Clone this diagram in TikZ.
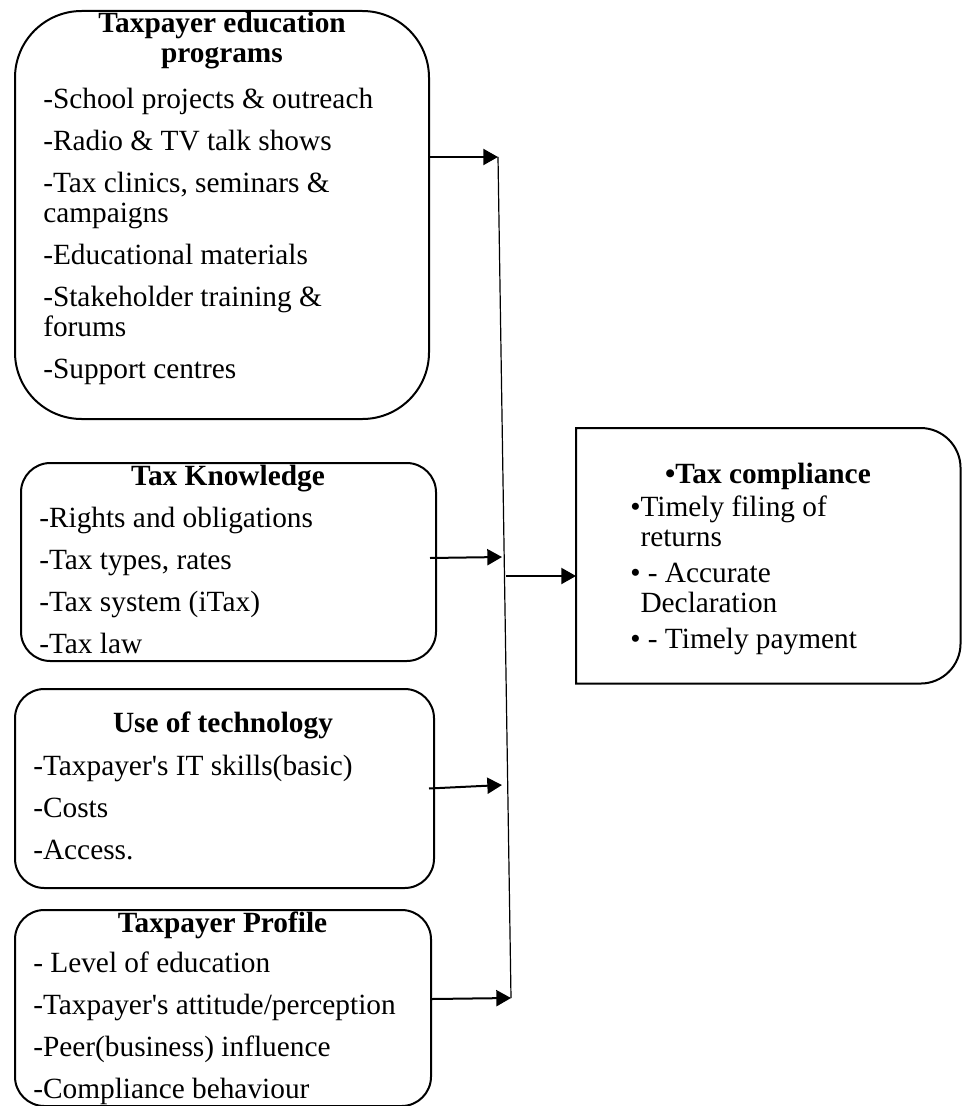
\documentclass[tikz,border=0pt]{standalone}
\usepackage{fontspec}
\setmainfont{Liberation Serif}
\usetikzlibrary{arrows.meta,positioning,calc}

\tikzset{
    box/.style={draw, line width=1.5pt, inner sep=0pt, anchor=north west},
    head/.style={font=\fontsize{22}{22.5}\selectfont\bfseries, align=center, anchor=base, inner sep=0pt},
    items/.style={font=\fontsize{22}{22.5}\selectfont, align=left, anchor=base west, inner sep=0pt},
    link/.style={-{Triangle[length=11pt,width=12pt]}, line width=1.5pt},
    spine/.style={line width=0.9pt}
}

\begin{document}
\begin{tikzpicture}[x=0.75pt, y=-0.75pt]

\useasboundingbox (0,0) rectangle (962,1106);

% input boxes (text nodes sit on the baseline of their last line)
\node[box, rounded corners=50pt, minimum width=310.5pt, minimum height=306pt] (edu) at (14,10) {};
\node[head] (eduhead) at (222,63) {Taxpayer education\\programs};
\node[items] (eduitems) at (43,378)
    {-School projects \& outreach\\[9pt]
     -Radio \& TV talk shows\\[9pt]
     -Tax clinics, seminars \&\\campaigns\\[9pt]
     -Educational materials\\[9pt]
     -Stakeholder training \&\\forums\\[9pt]
     -Support centres};

\node[box, rounded corners=22pt, minimum width=311.25pt, minimum height=148.5pt] (know) at (20,462) {};
\node[head] (knowhead) at (228,485) {Tax Knowledge};
\node[items] (knowitems) at (39,653)
    {-Rights and obligations\\[9pt]
     -Tax types, rates\\[9pt]
     -Tax system (iTax)\\[9pt]
     -Tax law};

\node[box, rounded corners=22pt, minimum width=314.25pt, minimum height=149.25pt] (tech) at (14,688) {};
\node[head] (techhead) at (223,732) {Use of technology};
\node[items] (techitems) at (33,859)
    {-Taxpayer\textquotesingle s IT skills(basic)\\[9pt]
     -Costs\\[9pt]
     -Access.};

\node[box, rounded corners=22pt, minimum width=312pt, minimum height=147pt] (prof) at (14,909) {};
\node[head] (profhead) at (222.5,932) {Taxpayer Profile};
\node[items] (profitems) at (33,1098)
    {- Level of education\\[9pt]
     -Taxpayer\textquotesingle s attitude/perception\\[9pt]
     -Peer(business) influence\\[9pt]
     -Compliance behaviour};

% outcome box, rounded on the right only
\node[inner sep=0pt, anchor=north west, minimum width=288pt, minimum height=191.25pt] (comp) at (576,428) {};
\draw[line width=1.5pt] (comp.north west) -- ([xshift=-30pt]comp.north east)
    arc[start angle=90, end angle=0, radius=30pt] -- ([yshift=30pt]comp.south east)
    arc[start angle=0, end angle=-90, radius=30pt] -- (comp.south west) -- cycle;
\node[head] (comphead) at (768,483) {\textbullet Tax compliance};
\node[items] (compitems) at (630,648)
    {\textbullet Timely filing of\\\hphantom{\textbullet}returns\\[4.5pt]
     \textbullet\ - Accurate\\\hphantom{\textbullet}Declaration\\[4.5pt]
     \textbullet\ - Timely payment};

% connectors
\coordinate (sptop) at (498,157);
\coordinate (spbot) at (511,998);
\coordinate (kn) at (502,557);
\coordinate (te) at (502,785);
\coordinate (jn) at (506,576);

\draw[spine] (sptop) -- (spbot);
\draw[link] (edu.east |- sptop) -- (sptop);
\draw[link] ($(know.east)+(-7,-4)$) -- (kn);
\draw[link] ($(tech.east)+(-6,0)$) -- (te);
\draw[link] ($(prof.east)+(0,-9)$) -- (spbot);
\draw[link] (jn) -- (jn -| comp.west);

\end{tikzpicture}
\end{document}
